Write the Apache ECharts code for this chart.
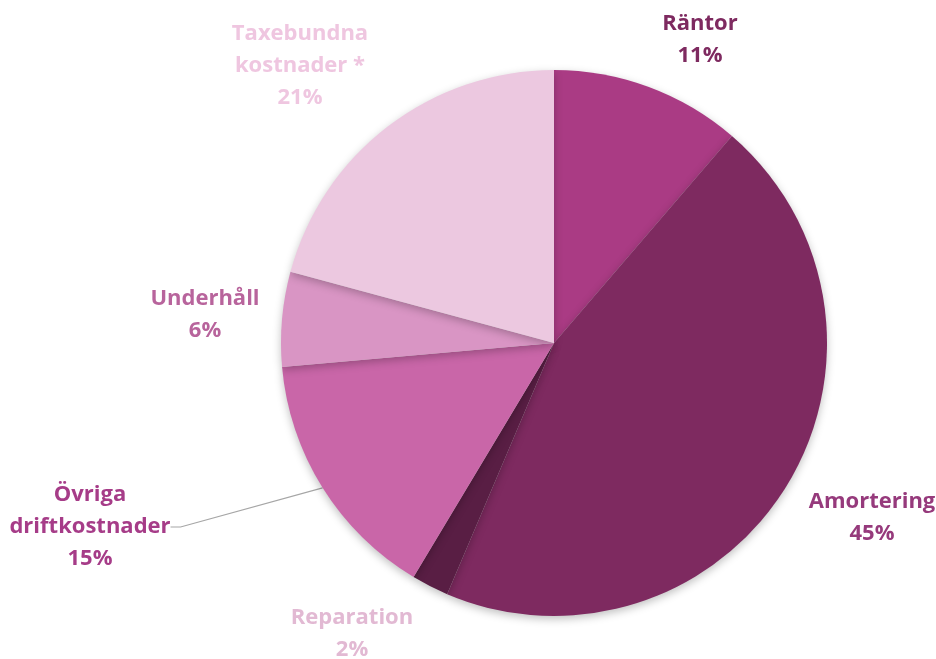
<!DOCTYPE html>
<html>
<head>
<meta charset="utf-8">
<script src="https://cdn.jsdelivr.net/npm/echarts@6/dist/echarts.min.js"></script>
<style>
  html, body { margin: 0; padding: 0; background: #fff; }
  #chart { width: 936px; height: 659px; }
</style>
</head>
<body>
<div id="chart"></div>
<script>
// slice data, clockwise from 12 o'clock
const names = ['Räntor', 'Amortering', 'Reparation', 'Övriga\ndriftkostnader', 'Underhåll', 'Taxebundna\nkostnader *'];
const values = [11.3, 45.1, 2.2, 15.0, 5.6, 20.8];
const sliceColors = ['#AA3B84', '#7E2A60', '#591E44', '#C966A8', '#D995C4', '#ECC8E0'];
const labelColors = ['#7E2A60', '#963A7C', '#E2B9D3', '#A63C88', '#B8649C', '#EFC6E0'];
// label anchor points (centre of text block)
const labelPos = [[700, 40], [872, 518], [352, 634], [90, 527], [205, 315], [300, 66]];

const chart = echarts.init(document.getElementById('chart'));

const data = names.map((n, i) => ({
  name: n,
  value: values[i],
  itemStyle: { color: sliceColors[i] },
  label: { color: labelColors[i] },
  labelLine: { show: i === 3 }
}));

chart.setOption({
  animation: false,
  series: [{
    type: 'pie',
    center: [554, 343],
    radius: 273,
    startAngle: 90,
    clockwise: true,
    data: data,
    itemStyle: {
      borderWidth: 0,
      shadowBlur: 8,
      shadowOffsetY: 3,
      shadowColor: 'rgba(0,0,0,0.25)'
    },
    label: {
      show: true,
      position: 'outside',
      overflow: 'none',
      formatter: p => p.name + '\n' + Math.round(p.percent) + '%',
      fontFamily: 'Open Sans',
      fontWeight: 'bold',
      fontSize: 22,
      lineHeight: 32,
      align: 'center'
    },
    labelLine: {
      lineStyle: { color: '#A6A6A6', width: 1.2 },
      length: 10,
      length2: 10
    },
    labelLayout: function (params) {
      const p = labelPos[params.dataIndex];
      return { x: p[0], y: p[1], align: 'center', verticalAlign: 'middle' };
    }
  }]
});
</script>
</body>
</html>
